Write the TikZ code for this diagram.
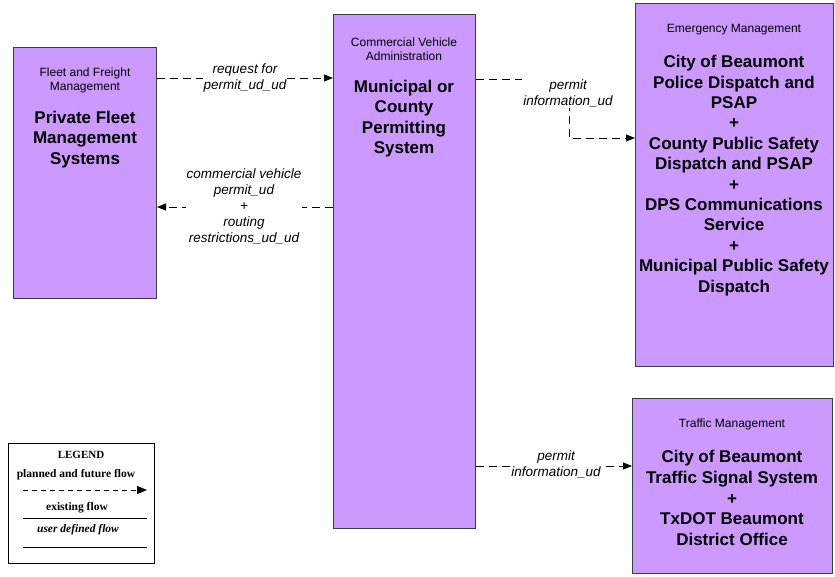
\documentclass[tikz,border=0pt]{standalone}
\usepackage{fontspec}
\setmainfont{Liberation Sans}
\newfontfamily\timesf{Liberation Serif}
\usetikzlibrary{arrows.meta}
\definecolor{boxfill}{RGB}{204,153,255}
\definecolor{boxline}{RGB}{60,60,60}
\tikzset{
  sysbox/.style={draw=boxline, line width=1pt, fill=boxfill, rectangle, inner sep=0pt, anchor=north west},
  hdr/.style={align=center, inner sep=0pt, font=\fontsize{12}{14.5}\selectfont},
  ttl/.style={align=center, inner sep=0pt, font=\fontsize{17}{20.4}\selectfont\bfseries},
  lbl/.style={align=center, fill=white, inner sep=1pt, font=\fontsize{13.5}{16}\selectfont\itshape},
  flow/.style={line width=0.9pt, dash pattern=on 8pt off 5pt, -{Triangle[length=9pt,width=7pt]}},
  legtxt/.style={inner sep=0pt, font=\timesf\fontsize{11.5}{13}\selectfont\bfseries},
}
\begin{document}
\begin{tikzpicture}[x=1pt,y=-1pt]
\useasboundingbox (0,0) rectangle (835,576);
% boxes
\node[sysbox, minimum width=143pt, minimum height=251pt] (fleet) at (13,47) {};
\node[sysbox, minimum width=142pt, minimum height=514pt] (cva) at (333,14) {};
\node[sysbox, minimum width=198pt, minimum height=363pt] (em) at (635,3) {};
\node[sysbox, minimum width=200pt, minimum height=175pt] (tm) at (632,398) {};
% box texts
\node[hdr] (fleeth) at (85,80.5) {Fleet and Freight\\Management};
\node[ttl] (fleett) at (85,139.5) {Private Fleet\\Management\\Systems};
\node[hdr] (cvah) at (404,49) {Commercial Vehicle\\Administration};
\node[ttl] (cvat) at (404,118.5) {Municipal or\\County\\Permitting\\System};
\node[hdr] (emh) at (734,30) {Emergency Management};
\node[ttl] (emt) at (734,175.5) {City of Beaumont\\Police Dispatch and\\PSAP\\+\\County Public Safety\\Dispatch and PSAP\\+\\DPS Communications\\Service\\+\\Municipal Public Safety\\Dispatch};
\node[hdr] (tmh) at (732,424) {Traffic Management};
\node[ttl, font=\fontsize{17}{20.7}\selectfont\bfseries] (tmt) at (732,498) {City of Beaumont\\Traffic Signal System\\+\\TxDOT Beaumont\\District Office};
% flows
\coordinate (ya) at (0,78);
\coordinate (yb) at (0,207);
\coordinate (yc) at (0,79);
\coordinate (yd) at (0,138);
\coordinate (ye) at (0,466);
\coordinate (bend1) at (569,79);
\coordinate (bend2) at (569,138);
\draw[flow] (fleet.east |- ya) -- (cva.west |- ya);
\node[lbl] (l1) at (245,78) {request for\\permit\_ud\_ud};
\draw[flow] (cva.west |- yb) -- (fleet.east |- yb);
\node[lbl] (l2) at (244,206) {commercial vehicle\\permit\_ud\\+\\routing\\restrictions\_ud\_ud};
\draw[flow] (cva.east |- yc) -- (bend1) -- (bend2) -- (em.west |- yd);
\node[lbl] (l3) at (568,93.5) {permit\\information\_ud};
\draw[flow] (cva.east |- ye) -- (tm.west |- ye);
\node[lbl] (l4) at (556,464) {permit\\information\_ud};
% legend
\node[draw=black, line width=1pt, minimum width=146pt, minimum height=120pt, anchor=north west, inner sep=0pt] (legend) at (8,443) {};
\node[legtxt, font=\timesf\fontsize{11}{13}\selectfont\bfseries] (legt) at (81,455) {LEGEND};
\node[legtxt] (leg1) at (76,475) {planned and future flow};
\coordinate (lga) at (23,490);
\coordinate (lgb) at (147,490);
\draw[flow, dash pattern=on 5pt off 4pt, -{Triangle[length=10pt,width=8pt]}] (lga) -- (lgb);
\node[legtxt] (leg2) at (77,508) {existing flow};
\coordinate (lgc) at (23,518);
\coordinate (lgd) at (147,518);
\draw[line width=1pt] (lgc) -- (lgd);
\node[legtxt, font=\timesf\fontsize{11.5}{13}\selectfont\bfseries\itshape] (leg3) at (78,530) {user defined flow};
\coordinate (lge) at (23,547);
\coordinate (lgf) at (147,547);
\draw[line width=1pt] (lge) -- (lgf);
\end{tikzpicture}
\end{document}
